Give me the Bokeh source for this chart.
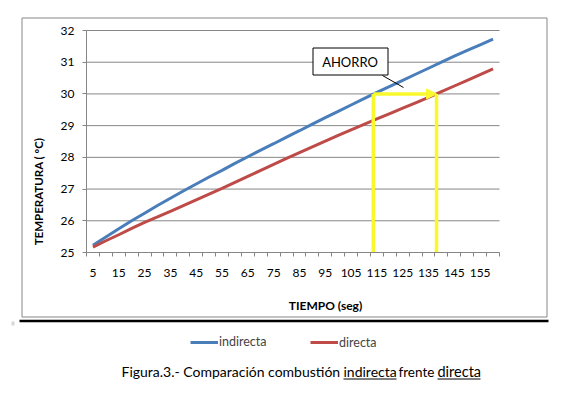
import math
from bokeh.plotting import figure
from bokeh.models import (Range1d, FixedTicker, Legend, LegendItem, Label,
                          BoxAnnotation, Arrow, NormalHead)
from bokeh.embed import file_html
from bokeh.resources import INLINE

# ---------------- data ----------------
tiempo = list(range(5, 161, 5))          # seg (categories 5..160)
indirecta = [25.23, 25.49, 25.75, 26.00, 26.24, 26.48, 26.71, 26.94, 27.16, 27.38,
             27.59, 27.81, 28.02, 28.23, 28.43, 28.64, 28.84, 29.05, 29.25, 29.45,
             29.65, 29.85, 30.05, 30.24, 30.43, 30.62, 30.81, 31.00, 31.19, 31.37,
             31.55, 31.73]
directa = [25.17, 25.37, 25.56, 25.76, 25.95, 26.12, 26.30, 26.48, 26.66, 26.84,
           27.02, 27.21, 27.40, 27.59, 27.78, 27.97, 28.15, 28.33, 28.51, 28.69,
           28.87, 29.04, 29.21, 29.38, 29.55, 29.72, 29.89, 30.07, 30.25, 30.43,
           30.61, 30.79]
x_tick_labels = list(range(5, 156, 10))
y_ticks = list(range(25, 33))
ahorro_t_start = 113.6   # indirecta reaches 30 ºC
ahorro_t_end = 138.1     # directa reaches 30 ºC
ahorro_temp = 30
temp_min = 25
temp_max = 32
series_names = ["indirecta", "directa"]
caption_parts = ["Figura.3.- Comparación  combustión", "indirecta", "frente", "directa"]
caption_underlined = [False, True, False, True]

# ---------------- layout (pixels of the 554x383 canvas) ----------------
W, H = 554, 383
PL, PR, PT, PB = 86, 499, 30, 252          # plot area
half = (tiempo[1] - tiempo[0]) / 2
x_lo, x_hi = tiempo[0] - half, tiempo[-1] + half
xs = (x_hi - x_lo) / (PR - PL)
ys = (temp_max - temp_min) / (PB - PT)

def sy(Y):          # canvas pixel row -> screen units (from bottom)
    return H - Y

FONT = "Lato"
GRID = "#868686"
BLUE = "#4a7ebb"
RED = "#be4b48"
YELLOW = "#f8f82c"

p = figure(width=W, height=H,
           x_range=Range1d(x_lo - PL * xs, x_hi + (W - PR) * xs),
           y_range=Range1d(temp_min - (H - PB) * ys, temp_max + PT * ys),
           output_backend="svg", toolbar_location=None,
           min_border=0, min_border_left=0, min_border_right=0,
           min_border_top=0, min_border_bottom=0)
p.outline_line_color = None
p.background_fill_color = "white"
p.border_fill_color = "white"

# axes drawn at the edges of the plot area
p.xaxis.fixed_location = temp_min
p.xaxis.bounds = (x_lo, x_hi)
bounds = [t - half for t in tiempo] + [tiempo[-1] + half]
p.xaxis.ticker = FixedTicker(ticks=x_tick_labels, minor_ticks=bounds)
p.xaxis.major_tick_line_color = None
p.xaxis.major_tick_out = 0
p.xaxis.major_tick_in = 0
p.xaxis.minor_tick_out = 4
p.xaxis.minor_tick_in = 0
p.xaxis.minor_tick_line_color = GRID
p.xaxis.axis_line_color = GRID
p.xaxis.major_label_standoff = 12
p.xaxis.major_label_text_font = FONT
p.xaxis.major_label_text_font_size = "12px"
p.xaxis.major_label_text_color = "black"

p.yaxis.fixed_location = x_lo
p.yaxis.bounds = (temp_min, temp_max)
p.yaxis.ticker = FixedTicker(ticks=y_ticks)
p.yaxis.major_tick_out = 4
p.yaxis.major_tick_in = 0
p.yaxis.major_tick_line_color = GRID
p.yaxis.minor_tick_line_color = None
p.yaxis.axis_line_color = GRID
p.yaxis.major_label_standoff = 8
p.yaxis.major_label_text_font = FONT
p.yaxis.major_label_text_font_size = "12px"
p.yaxis.major_label_text_color = "black"

p.xgrid.grid_line_color = None
p.ygrid.grid_line_color = None
# horizontal gridlines limited to the plot area
p.segment(x0=[x_lo] * len(y_ticks), x1=[x_hi] * len(y_ticks), y0=y_ticks, y1=y_ticks,
          line_color=GRID, line_width=1)

r_ind = p.line(tiempo, indirecta, line_width=3, line_color=BLUE)
r_dir = p.line(tiempo, directa, line_width=3, line_color=RED)

# yellow "ahorro" marks
p.segment(x0=[ahorro_t_start, ahorro_t_end], y0=[temp_min, temp_min],
          x1=[ahorro_t_start, ahorro_t_end], y1=[ahorro_temp, ahorro_temp],
          line_width=3.5, line_color=YELLOW)
p.add_layout(Arrow(x_start=ahorro_t_start, y_start=ahorro_temp,
                   x_end=ahorro_t_end, y_end=ahorro_temp,
                   line_color=YELLOW, line_width=3.5,
                   end=NormalHead(size=10, fill_color=YELLOW, line_color=YELLOW, line_width=1)))

def box(l, r, t, b, **kw):
    return BoxAnnotation(left=l, right=r, top=sy(t), bottom=sy(b),
                         left_units="screen", right_units="screen",
                         top_units="screen", bottom_units="screen", **kw)

def hline(x0, x1, Y, color, width):
    return Arrow(x_start=x0, y_start=sy(Y), x_end=x1, y_end=sy(Y),
                 start_units="screen", end_units="screen", end=None,
                 line_color=color, line_width=width)

def label(X, Y, text, size, **kw):
    return Label(x=X, y=sy(Y), x_units="screen", y_units="screen", text=text,
                 text_font=FONT, text_font_size=size, text_color="black", **kw)

# AHORRO callout
p.add_layout(box(312.5, 387.5, 47.5, 74.5, fill_color="white", fill_alpha=1,
                 line_color="black", line_alpha=1, line_width=1))
p.add_layout(label(349.5, 61, "AHORRO", "13px", text_align="center", text_baseline="middle"))
p.add_layout(Arrow(x_start=382, y_start=sy(75), x_end=403, y_end=sy(87),
                   start_units="screen", end_units="screen", end=None,
                   line_color="black", line_width=1))

# axis titles
p.add_layout(label(325, 305, "TIEMPO (seg)", "12px", text_font_style="bold",
                   text_align="center", text_baseline="middle"))
p.add_layout(label(38, 191, "TEMPERATURA ( ºC)", "11.5px", text_font_style="bold",
                   text_align="center", text_baseline="middle",
                   angle=math.pi / 2, angle_units="rad"))

# chart border, separator line, small mark
p.add_layout(box(21.5, 546.5, 17.5, 316.5, fill_alpha=0, line_color="#878787",
                 line_alpha=1, line_width=1))
p.add_layout(box(19, 548, 319.2, 321.8, fill_color="black", fill_alpha=1, line_alpha=0))
p.add_layout(box(11, 14, 321, 325, fill_color="#d8d8d8", fill_alpha=1, line_alpha=0))

# legends (below the chart)
for name, rend, (lx, ly) in zip(series_names, [r_ind, r_dir], [(190, 349), (310, 349.5)]):
    leg = Legend(items=[LegendItem(label=name, renderers=[rend])],
                 location=(lx, sy(ly)), orientation="horizontal",
                 glyph_width=28, glyph_height=14, label_height=14, label_standoff=1,
                 padding=0, margin=0, border_line_color=None, background_fill_alpha=0,
                 label_text_font=FONT, label_text_font_size="12.5px")
    p.add_layout(leg)

# caption with underlined words
cap_x = [121, 343, 398, 437]
cap_end = [339, 396, 432, 480]
cap_size = ["14px", "14px", "13.5px", "14.5px"]
for txt, ul, x0, x1, fs in zip(caption_parts, caption_underlined, cap_x, cap_end, cap_size):
    p.add_layout(label(x0, 371, txt, fs, text_align="left", text_baseline="middle"))
    if ul:
        p.add_layout(hline(x0, x1, 378.5, "black", 1))

open("out.html", "w").write(file_html(p, INLINE))
